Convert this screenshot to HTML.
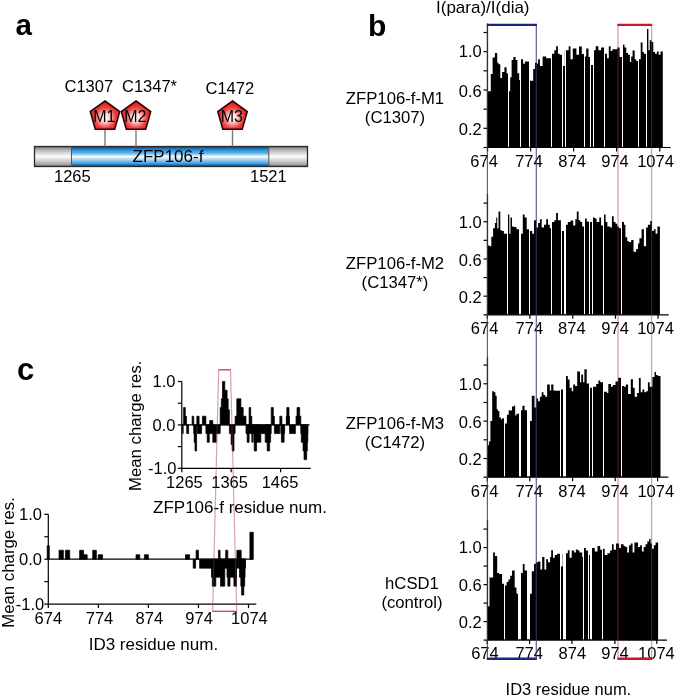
<!DOCTYPE html>
<html><head><meta charset="utf-8"><style>
html,body{margin:0;padding:0;background:#fff;width:675px;height:696px;overflow:hidden}
svg{display:block;filter:blur(0.45px)}
text{font-family:"Liberation Sans",sans-serif;fill:#000}
</style></head><body>
<svg width="675" height="696" viewBox="0 0 675 696">
<rect width="675" height="696" fill="#fff"/>
<defs>
<linearGradient id="gGray" x1="0" y1="0" x2="0" y2="1">
<stop offset="0" stop-color="#666"/><stop offset="0.12" stop-color="#a6a6a6"/><stop offset="0.3" stop-color="#d2d2d2"/><stop offset="0.5" stop-color="#fbfbfb"/><stop offset="0.72" stop-color="#cfcfcf"/><stop offset="0.9" stop-color="#a2a2a2"/><stop offset="1" stop-color="#6a6a6a"/></linearGradient>
<linearGradient id="gBlue" x1="0" y1="0" x2="0" y2="1">
<stop offset="0" stop-color="#123f6a"/><stop offset="0.1" stop-color="#1f6fb0"/><stop offset="0.2" stop-color="#2f98dc"/><stop offset="0.33" stop-color="#5ab2ea"/><stop offset="0.5" stop-color="#f6fbff"/><stop offset="0.68" stop-color="#9ccff4"/><stop offset="0.85" stop-color="#3a9ee0"/><stop offset="0.93" stop-color="#1f6fb0"/><stop offset="1" stop-color="#103c66"/></linearGradient>
<radialGradient id="gRed" cx="0.5" cy="0.6" r="0.6">
<stop offset="0" stop-color="#ffffff"/><stop offset="0.22" stop-color="#fde0e0"/><stop offset="0.6" stop-color="#f04040"/><stop offset="1" stop-color="#e01414"/></radialGradient>
</defs>
<text x="15.5" y="35" font-size="29.5" text-anchor="start" font-weight="bold" >a</text>
<rect x="34.5" y="146.5" width="37.0" height="20.0" fill="url(#gGray)"/>
<rect x="268.8" y="146.5" width="38.69999999999999" height="20.0" fill="url(#gGray)"/>
<rect x="71.5" y="146.5" width="197.3" height="20.0" fill="url(#gBlue)"/>
<rect x="34.5" y="146.5" width="273.0" height="20.0" fill="none" stroke="#2a2a2a" stroke-width="1.3"/>
<line x1="71.50" y1="146.50" x2="71.50" y2="166.50" stroke="#555" stroke-width="1"/>
<line x1="268.80" y1="146.50" x2="268.80" y2="166.50" stroke="#555" stroke-width="1"/>
<text x="168" y="161.8" font-size="17" text-anchor="middle" font-weight="normal" >ZFP106-f</text>
<text x="54" y="181.5" font-size="16.5" text-anchor="start" font-weight="normal" >1265</text>
<text x="250" y="181.5" font-size="16.5" text-anchor="start" font-weight="normal" >1521</text>
<line x1="105.00" y1="129.00" x2="105.00" y2="146.50" stroke="#7a7a7a" stroke-width="1.4"/>
<polygon points="105.0,101.0 119.7,111.5 114.7,129.2 95.3,129.2 90.3,111.5" fill="url(#gRed)" stroke="#2a0404" stroke-width="1.6"/>
<text x="104.4" y="121.9" font-size="16" text-anchor="middle" font-weight="normal" >M1</text>
<line x1="136.00" y1="129.00" x2="136.00" y2="146.50" stroke="#7a7a7a" stroke-width="1.4"/>
<polygon points="136.0,101.0 150.7,111.5 145.7,129.2 126.3,129.2 121.3,111.5" fill="url(#gRed)" stroke="#2a0404" stroke-width="1.6"/>
<text x="135.4" y="121.9" font-size="16" text-anchor="middle" font-weight="normal" >M2</text>
<line x1="232.50" y1="129.00" x2="232.50" y2="146.50" stroke="#7a7a7a" stroke-width="1.4"/>
<polygon points="232.5,101.0 247.2,111.5 242.2,129.2 222.8,129.2 217.8,111.5" fill="url(#gRed)" stroke="#2a0404" stroke-width="1.6"/>
<text x="231.9" y="121.9" font-size="16" text-anchor="middle" font-weight="normal" >M3</text>
<text x="64.5" y="92.2" font-size="16.5" text-anchor="start" font-weight="normal" >C1307</text>
<text x="122" y="92.2" font-size="16.5" text-anchor="start" font-weight="normal" >C1347*</text>
<text x="205.5" y="93.7" font-size="16.5" text-anchor="start" font-weight="normal" >C1472</text>
<text x="368" y="36" font-size="30" text-anchor="start" font-weight="bold" >b</text>
<text x="436" y="13.4" font-size="17" text-anchor="start" font-weight="normal" >I(para)/I(dia)</text>
<path d="M487.7,147.5 L487.7,91.2 L490.8,91.2 L490.8,73.9 L492.6,73.9 L492.6,57.4 L494.9,57.4 L494.9,52.9 L497.2,52.9 L497.2,62.8 L498.5,62.8 L498.5,64.2 L500.3,64.2 L500.3,78.0 L502.1,78.0 L502.1,72.1 L504.4,72.1 L504.4,67.3 L506.6,67.3 L506.6,73.6 L508.2,73.6 L508.2,91.2 L510.2,91.2 L510.2,77.2 L511.6,77.2 L511.6,60.0 L513.4,60.0 L513.4,57.0 L515.6,57.0 L515.6,60.0 L517.4,60.0 L517.4,73.2 L519.2,73.2 L519.2,79.9 L520.6,79.9 L520.6,59.2 L523.1,59.2 L523.1,63.7 L524.9,63.7 L524.9,61.5 L529.6,61.5 L529.6,80.8 L533.2,80.8 L533.2,69.0 L535.0,69.0 L535.0,62.8 L537.2,62.8 L537.2,63.7 L538.1,63.7 L538.1,59.2 L539.9,59.2 L539.9,66.0 L542.6,66.0 L542.6,56.5 L546.2,56.5 L546.2,58.3 L551.5,58.3 L551.5,53.8 L554.3,53.8 L554.3,50.2 L556.1,50.2 L556.1,46.2 L557.9,46.2 L557.9,53.8 L559.7,53.8 L559.7,54.7 L562.0,54.7 L562.0,66.0 L564.8,66.0 L564.8,50.2 L568.7,50.2 L568.7,46.2 L570.5,46.2 L570.5,59.2 L572.8,59.2 L572.8,48.4 L575.0,48.4 L575.0,48.4 L576.4,48.4 L576.4,54.7 L579.0,54.7 L579.0,46.6 L581.8,46.6 L581.8,54.1 L584.6,54.1 L584.6,56.5 L586.2,56.5 L586.2,48.4 L588.5,48.4 L588.5,57.0 L590.6,57.0 L590.6,64.9 L593.3,64.9 L593.3,50.2 L595.7,50.2 L595.7,46.2 L598.4,46.2 L598.4,50.2 L601.1,50.2 L601.1,47.5 L604.0,47.5 L604.0,53.8 L607.0,53.8 L607.0,58.3 L608.8,58.3 L608.8,46.2 L610.6,46.2 L610.6,51.1 L612.4,51.1 L612.4,49.3 L617.3,49.3 L617.3,47.5 L619.6,47.5 L619.6,57.0 L622.2,57.0 L622.2,44.8 L624.5,44.8 L624.5,47.5 L626.3,47.5 L626.3,52.9 L628.1,52.9 L628.1,54.7 L629.9,54.7 L629.9,61.9 L631.2,61.9 L631.2,56.5 L632.6,56.5 L632.6,50.5 L634.7,50.5 L634.7,59.2 L636.2,59.2 L636.2,61.0 L638.4,61.0 L638.4,59.2 L640.7,59.2 L640.7,42.6 L642.5,42.6 L642.5,52.0 L643.9,52.0 L643.9,53.8 L646.3,53.8 L646.3,29.0 L648.4,29.0 L648.4,50.2 L649.7,50.2 L649.7,40.3 L651.5,40.3 L651.5,42.1 L653.3,42.1 L653.3,52.0 L655.1,52.0 L655.1,53.8 L656.9,53.8 L656.9,51.6 L658.7,51.6 L658.7,54.7 L660.5,54.7 L660.5,51.6 L662.8,51.6 L662.8,147.5 Z" fill="#000"/>
<rect x="508" y="23.5" width="1" height="123.4" fill="#fff"/>
<rect x="520" y="23.5" width="1" height="123.4" fill="#fff"/>
<rect x="529" y="23.5" width="1" height="123.4" fill="#fff"/>
<rect x="551" y="23.5" width="1" height="123.4" fill="#fff"/>
<rect x="562" y="23.5" width="1" height="123.4" fill="#fff"/>
<rect x="565" y="23.5" width="1" height="123.4" fill="#fff"/>
<rect x="584" y="23.5" width="1" height="123.4" fill="#fff"/>
<rect x="590" y="23.5" width="1" height="123.4" fill="#fff"/>
<rect x="593" y="23.5" width="1" height="123.4" fill="#fff"/>
<rect x="604" y="23.5" width="1" height="123.4" fill="#fff"/>
<rect x="622" y="23.5" width="1" height="123.4" fill="#fff"/>
<rect x="638" y="23.5" width="1" height="123.4" fill="#fff"/>
<rect x="646" y="23.5" width="1" height="123.4" fill="#fff"/>
<line x1="487.50" y1="23.50" x2="487.50" y2="147.50" stroke="#000" stroke-width="1.2"/>
<line x1="487.50" y1="147.50" x2="670.60" y2="147.50" stroke="#000" stroke-width="1.2"/>
<line x1="483.50" y1="147.50" x2="487.50" y2="147.50" stroke="#000" stroke-width="1.2"/>
<line x1="483.50" y1="128.33" x2="487.50" y2="128.33" stroke="#000" stroke-width="1.2"/>
<line x1="483.50" y1="109.17" x2="487.50" y2="109.17" stroke="#000" stroke-width="1.2"/>
<line x1="483.50" y1="90.00" x2="487.50" y2="90.00" stroke="#000" stroke-width="1.2"/>
<line x1="483.50" y1="70.83" x2="487.50" y2="70.83" stroke="#000" stroke-width="1.2"/>
<line x1="483.50" y1="51.67" x2="487.50" y2="51.67" stroke="#000" stroke-width="1.2"/>
<line x1="483.50" y1="32.50" x2="487.50" y2="32.50" stroke="#000" stroke-width="1.2"/>
<text x="481.8" y="57.466666666666654" font-size="16.5" text-anchor="end" font-weight="normal" >1.0</text>
<text x="481.8" y="96.6" font-size="16.5" text-anchor="end" font-weight="normal" >0.6</text>
<text x="481.8" y="135.13333333333335" font-size="16.5" text-anchor="end" font-weight="normal" >0.2</text>
<line x1="487.60" y1="147.50" x2="487.60" y2="151.50" stroke="#000" stroke-width="1.2"/>
<text x="484.1" y="166.8" font-size="16.5" text-anchor="middle" font-weight="normal" >674</text>
<line x1="530.70" y1="147.50" x2="530.70" y2="151.50" stroke="#000" stroke-width="1.2"/>
<text x="528.9" y="166.8" font-size="16.5" text-anchor="middle" font-weight="normal" >774</text>
<line x1="573.60" y1="147.50" x2="573.60" y2="151.50" stroke="#000" stroke-width="1.2"/>
<text x="572.1" y="166.8" font-size="16.5" text-anchor="middle" font-weight="normal" >874</text>
<line x1="616.60" y1="147.50" x2="616.60" y2="151.50" stroke="#000" stroke-width="1.2"/>
<text x="614.9" y="166.8" font-size="16.5" text-anchor="middle" font-weight="normal" >974</text>
<line x1="659.80" y1="147.50" x2="659.80" y2="151.50" stroke="#000" stroke-width="1.2"/>
<text x="655.5" y="166.8" font-size="16.5" text-anchor="middle" font-weight="normal" >1074</text>
<text x="395" y="104.2" font-size="16.7" text-anchor="middle" font-weight="normal" >ZFP106-f-M1</text>
<text x="395" y="123.2" font-size="16.7" text-anchor="middle" font-weight="normal" >(C1307)</text>
<path d="M487.7,314.8 L487.7,245.4 L489.5,245.4 L489.5,246.3 L491.3,246.3 L491.3,236.7 L493.1,236.7 L493.1,228.3 L494.9,228.3 L494.9,222.9 L496.2,222.9 L496.2,217.5 L497.2,217.5 L497.2,228.3 L498.5,228.3 L498.5,211.5 L500.3,211.5 L500.3,230.1 L501.5,230.1 L501.5,231.0 L503.9,231.0 L503.9,233.7 L507.2,233.7 L507.2,214.4 L509.3,214.4 L509.3,233.7 L510.5,233.7 L510.5,217.5 L512.0,217.5 L512.0,226.5 L513.8,226.5 L513.8,227.0 L516.5,227.0 L516.5,229.2 L519.5,229.2 L519.5,233.7 L522.8,233.7 L522.8,214.4 L524.6,214.4 L524.6,217.5 L526.7,217.5 L526.7,229.2 L529.6,229.2 L529.6,231.0 L532.2,231.0 L532.2,233.7 L534.0,233.7 L534.0,220.2 L536.3,220.2 L536.3,227.4 L538.1,227.4 L538.1,222.9 L539.9,222.9 L539.9,219.3 L541.7,219.3 L541.7,227.4 L544.0,227.4 L544.0,224.7 L546.2,224.7 L546.2,219.3 L548.0,219.3 L548.0,224.7 L549.8,224.7 L549.8,228.3 L551.5,228.3 L551.5,222.0 L554.3,222.0 L554.3,220.2 L556.1,220.2 L556.1,213.0 L557.9,213.0 L557.9,220.2 L560.9,220.2 L560.9,231.0 L564.2,231.0 L564.2,224.7 L567.8,224.7 L567.8,222.0 L570.5,222.0 L570.5,220.5 L573.2,220.5 L573.2,225.6 L575.3,225.6 L575.3,219.3 L576.8,219.3 L576.8,211.5 L578.6,211.5 L578.6,220.2 L580.4,220.2 L580.4,222.0 L582.2,222.0 L582.2,226.5 L584.3,226.5 L584.3,218.4 L586.7,218.4 L586.7,221.6 L588.5,221.6 L588.5,222.0 L589.8,222.0 L589.8,222.0 L592.4,222.0 L592.4,217.5 L594.8,217.5 L594.8,218.4 L596.6,218.4 L596.6,222.0 L599.3,222.0 L599.3,217.5 L601.1,217.5 L601.1,225.6 L603.2,225.6 L603.2,214.4 L605.6,214.4 L605.6,222.0 L607.4,222.0 L607.4,226.5 L610.1,226.5 L610.1,227.4 L611.9,227.4 L611.9,216.2 L613.7,216.2 L613.7,222.0 L615.5,222.0 L615.5,223.8 L617.3,223.8 L617.3,226.5 L619.1,226.5 L619.1,228.3 L621.6,228.3 L621.6,222.0 L624.0,222.0 L624.0,224.7 L625.4,224.7 L625.4,237.3 L627.2,237.3 L627.2,240.9 L628.6,240.9 L628.6,242.1 L631.2,242.1 L631.2,240.0 L633.5,240.0 L633.5,251.7 L636.2,251.7 L636.2,249.0 L638.0,249.0 L638.0,243.6 L639.4,243.6 L639.4,238.2 L641.6,238.2 L641.6,229.2 L643.9,229.2 L643.9,246.3 L646.1,246.3 L646.1,227.4 L647.9,227.4 L647.9,224.7 L650.2,224.7 L650.2,221.1 L652.0,221.1 L652.0,231.0 L653.8,231.0 L653.8,229.2 L655.6,229.2 L655.6,233.7 L657.4,233.7 L657.4,226.5 L659.9,226.5 L659.9,314.8 Z" fill="#000"/>
<rect x="507" y="194" width="1" height="120.2" fill="#fff"/>
<rect x="519" y="194" width="2" height="120.2" fill="#fff"/>
<rect x="529" y="194" width="1" height="120.2" fill="#fff"/>
<rect x="551" y="194" width="1" height="120.2" fill="#fff"/>
<rect x="561" y="194" width="1" height="120.2" fill="#fff"/>
<rect x="564" y="194" width="2" height="120.2" fill="#fff"/>
<rect x="584" y="194" width="1" height="120.2" fill="#fff"/>
<rect x="589" y="194" width="1" height="120.2" fill="#fff"/>
<rect x="592" y="194" width="1" height="120.2" fill="#fff"/>
<rect x="603" y="194" width="1" height="120.2" fill="#fff"/>
<rect x="621" y="194" width="1" height="120.2" fill="#fff"/>
<line x1="487.50" y1="194.00" x2="487.50" y2="314.80" stroke="#000" stroke-width="1.2"/>
<line x1="487.50" y1="314.80" x2="668.70" y2="314.80" stroke="#000" stroke-width="1.2"/>
<line x1="483.50" y1="314.80" x2="487.50" y2="314.80" stroke="#000" stroke-width="1.2"/>
<line x1="483.50" y1="296.18" x2="487.50" y2="296.18" stroke="#000" stroke-width="1.2"/>
<line x1="483.50" y1="277.57" x2="487.50" y2="277.57" stroke="#000" stroke-width="1.2"/>
<line x1="483.50" y1="258.95" x2="487.50" y2="258.95" stroke="#000" stroke-width="1.2"/>
<line x1="483.50" y1="240.33" x2="487.50" y2="240.33" stroke="#000" stroke-width="1.2"/>
<line x1="483.50" y1="221.72" x2="487.50" y2="221.72" stroke="#000" stroke-width="1.2"/>
<line x1="483.50" y1="203.10" x2="487.50" y2="203.10" stroke="#000" stroke-width="1.2"/>
<text x="481.8" y="227.51666666666665" font-size="16.5" text-anchor="end" font-weight="normal" >1.0</text>
<text x="481.8" y="265.55" font-size="16.5" text-anchor="end" font-weight="normal" >0.6</text>
<text x="481.8" y="302.98333333333335" font-size="16.5" text-anchor="end" font-weight="normal" >0.2</text>
<line x1="487.30" y1="314.80" x2="487.30" y2="318.80" stroke="#000" stroke-width="1.2"/>
<text x="484.6" y="334.1" font-size="16.5" text-anchor="middle" font-weight="normal" >674</text>
<line x1="529.90" y1="314.80" x2="529.90" y2="318.80" stroke="#000" stroke-width="1.2"/>
<text x="529.3" y="334.1" font-size="16.5" text-anchor="middle" font-weight="normal" >774</text>
<line x1="572.80" y1="314.80" x2="572.80" y2="318.80" stroke="#000" stroke-width="1.2"/>
<text x="571.8" y="334.1" font-size="16.5" text-anchor="middle" font-weight="normal" >874</text>
<line x1="615.50" y1="314.80" x2="615.50" y2="318.80" stroke="#000" stroke-width="1.2"/>
<text x="615.1" y="334.1" font-size="16.5" text-anchor="middle" font-weight="normal" >974</text>
<line x1="658.00" y1="314.80" x2="658.00" y2="318.80" stroke="#000" stroke-width="1.2"/>
<text x="655.5" y="334.1" font-size="16.5" text-anchor="middle" font-weight="normal" >1074</text>
<text x="395" y="269.2" font-size="16.7" text-anchor="middle" font-weight="normal" >ZFP106-f-M2</text>
<text x="395" y="288.2" font-size="16.7" text-anchor="middle" font-weight="normal" >(C1347*)</text>
<path d="M487.7,477.2 L487.7,445.2 L489.0,445.2 L489.0,441.6 L490.4,441.6 L490.4,421.0 L492.2,421.0 L492.2,391.3 L494.0,391.3 L494.0,392.2 L495.4,392.2 L495.4,395.8 L496.7,395.8 L496.7,409.3 L497.9,409.3 L497.9,411.1 L499.4,411.1 L499.4,417.4 L500.8,417.4 L500.8,419.2 L502.1,419.2 L502.1,418.3 L504.2,418.3 L504.2,423.6 L506.9,423.6 L506.9,414.7 L508.7,414.7 L508.7,410.2 L510.2,410.2 L510.2,410.5 L512.0,410.5 L512.0,406.6 L513.8,406.6 L513.8,405.7 L515.2,405.7 L515.2,415.6 L516.5,415.6 L516.5,413.8 L519.2,413.8 L519.2,410.2 L522.4,410.2 L522.4,405.7 L524.6,405.7 L524.6,410.2 L527.2,410.2 L527.2,421.0 L531.8,421.0 L531.8,395.8 L534.5,395.8 L534.5,407.5 L536.3,407.5 L536.3,398.5 L538.1,398.5 L538.1,401.2 L539.9,401.2 L539.9,396.7 L541.7,396.7 L541.7,392.2 L543.5,392.2 L543.5,394.9 L545.3,394.9 L545.3,396.7 L547.1,396.7 L547.1,384.6 L549.8,384.6 L549.8,390.4 L551.2,390.4 L551.2,384.6 L553.4,384.6 L553.4,390.4 L555.2,390.4 L555.2,390.7 L559.9,390.7 L559.9,389.5 L563.3,389.5 L563.3,376.0 L567.8,376.0 L567.8,379.6 L569.6,379.6 L569.6,387.7 L571.7,387.7 L571.7,391.3 L573.2,391.3 L573.2,384.6 L575.0,384.6 L575.0,385.9 L577.2,385.9 L577.2,371.5 L580.0,371.5 L580.0,382.3 L581.3,382.3 L581.3,374.5 L583.1,374.5 L583.1,382.3 L584.4,382.3 L584.4,369.2 L586.7,369.2 L586.7,383.5 L589.2,383.5 L589.2,387.7 L592.4,387.7 L592.4,386.8 L596.2,386.8 L596.2,384.1 L598.4,384.1 L598.4,380.5 L600.2,380.5 L600.2,382.3 L603.2,382.3 L603.2,391.8 L607.0,391.8 L607.0,393.0 L608.3,393.0 L608.3,384.1 L611.0,384.1 L611.0,386.8 L612.8,386.8 L612.8,385.0 L615.5,385.0 L615.5,381.4 L618.2,381.4 L618.2,377.8 L620.0,377.8 L620.0,377.8 L621.6,377.8 L621.6,385.9 L624.0,385.9 L624.0,386.8 L625.8,386.8 L625.8,384.6 L628.1,384.6 L628.1,394.0 L630.8,394.0 L630.8,379.2 L632.9,379.2 L632.9,387.7 L634.7,387.7 L634.7,396.7 L637.1,396.7 L637.1,393.1 L638.9,393.1 L638.9,378.1 L640.7,378.1 L640.7,392.2 L642.5,392.2 L642.5,389.5 L644.3,389.5 L644.3,392.2 L646.1,392.2 L646.1,391.3 L647.9,391.3 L647.9,382.3 L649.7,382.3 L649.7,386.8 L652.4,386.8 L652.4,376.9 L654.5,376.9 L654.5,372.0 L656.0,372.0 L656.0,375.1 L657.8,375.1 L657.8,376.0 L660.5,376.0 L660.5,477.2 Z" fill="#000"/>
<rect x="504" y="357" width="1" height="119.6" fill="#fff"/>
<rect x="519" y="357" width="2" height="119.6" fill="#fff"/>
<rect x="527" y="357" width="3" height="119.6" fill="#fff"/>
<rect x="560" y="357" width="1" height="119.6" fill="#fff"/>
<rect x="563" y="357" width="3" height="119.6" fill="#fff"/>
<rect x="589" y="357" width="1" height="119.6" fill="#fff"/>
<rect x="592" y="357" width="1" height="119.6" fill="#fff"/>
<rect x="603" y="357" width="1" height="119.6" fill="#fff"/>
<rect x="621" y="357" width="1" height="119.6" fill="#fff"/>
<line x1="487.50" y1="357.00" x2="487.50" y2="477.20" stroke="#000" stroke-width="1.2"/>
<line x1="487.50" y1="477.20" x2="668.30" y2="477.20" stroke="#000" stroke-width="1.2"/>
<line x1="483.50" y1="477.20" x2="487.50" y2="477.20" stroke="#000" stroke-width="1.2"/>
<line x1="483.50" y1="458.52" x2="487.50" y2="458.52" stroke="#000" stroke-width="1.2"/>
<line x1="483.50" y1="439.83" x2="487.50" y2="439.83" stroke="#000" stroke-width="1.2"/>
<line x1="483.50" y1="421.15" x2="487.50" y2="421.15" stroke="#000" stroke-width="1.2"/>
<line x1="483.50" y1="402.47" x2="487.50" y2="402.47" stroke="#000" stroke-width="1.2"/>
<line x1="483.50" y1="383.78" x2="487.50" y2="383.78" stroke="#000" stroke-width="1.2"/>
<line x1="483.50" y1="365.10" x2="487.50" y2="365.10" stroke="#000" stroke-width="1.2"/>
<text x="481.8" y="389.58333333333337" font-size="16.5" text-anchor="end" font-weight="normal" >1.0</text>
<text x="481.8" y="427.75" font-size="16.5" text-anchor="end" font-weight="normal" >0.6</text>
<text x="481.8" y="465.31666666666666" font-size="16.5" text-anchor="end" font-weight="normal" >0.2</text>
<line x1="487.30" y1="477.20" x2="487.30" y2="481.20" stroke="#000" stroke-width="1.2"/>
<text x="484.6" y="496.5" font-size="16.5" text-anchor="middle" font-weight="normal" >674</text>
<line x1="529.80" y1="477.20" x2="529.80" y2="481.20" stroke="#000" stroke-width="1.2"/>
<text x="529.2" y="496.5" font-size="16.5" text-anchor="middle" font-weight="normal" >774</text>
<line x1="572.60" y1="477.20" x2="572.60" y2="481.20" stroke="#000" stroke-width="1.2"/>
<text x="572.0" y="496.5" font-size="16.5" text-anchor="middle" font-weight="normal" >874</text>
<line x1="615.20" y1="477.20" x2="615.20" y2="481.20" stroke="#000" stroke-width="1.2"/>
<text x="615.0" y="496.5" font-size="16.5" text-anchor="middle" font-weight="normal" >974</text>
<line x1="657.60" y1="477.20" x2="657.60" y2="481.20" stroke="#000" stroke-width="1.2"/>
<text x="655.8" y="496.5" font-size="16.5" text-anchor="middle" font-weight="normal" >1074</text>
<text x="395" y="429.3" font-size="16.7" text-anchor="middle" font-weight="normal" >ZFP106-f-M3</text>
<text x="395" y="448.3" font-size="16.7" text-anchor="middle" font-weight="normal" >(C1472)</text>
<path d="M487.7,640.1 L487.7,606.3 L489.5,606.3 L489.5,577.6 L493.1,577.6 L493.1,552.4 L494.9,552.4 L494.9,556.0 L497.2,556.0 L497.2,573.1 L499.0,573.1 L499.0,574.0 L502.1,574.0 L502.1,583.8 L504.1,583.8 L504.1,585.6 L506.6,585.6 L506.6,582.0 L508.4,582.0 L508.4,579.4 L510.2,579.4 L510.2,575.8 L512.0,575.8 L512.0,570.4 L514.7,570.4 L514.7,587.4 L516.5,587.4 L516.5,593.7 L518.6,593.7 L518.6,573.1 L522.8,573.1 L522.8,564.1 L524.6,564.1 L524.6,570.4 L527.3,570.4 L527.3,593.7 L531.8,593.7 L531.8,571.3 L534.0,571.3 L534.0,564.1 L535.8,564.1 L535.8,562.3 L538.1,562.3 L538.1,561.4 L540.4,561.4 L540.4,569.5 L542.2,569.5 L542.2,556.9 L544.4,556.9 L544.4,569.5 L546.2,569.5 L546.2,559.2 L548.0,559.2 L548.0,562.3 L550.1,562.3 L550.1,557.0 L551.2,557.0 L551.2,550.2 L553.0,550.2 L553.0,557.8 L554.8,557.8 L554.8,555.1 L557.0,555.1 L557.0,553.8 L560.4,553.8 L560.4,566.4 L562.7,566.4 L562.7,553.3 L567.8,553.3 L567.8,550.2 L569.6,550.2 L569.6,557.8 L571.7,557.8 L571.7,550.6 L574.1,550.6 L574.1,552.4 L575.9,552.4 L575.9,549.4 L577.7,549.4 L577.7,550.6 L579.5,550.6 L579.5,552.4 L582.2,552.4 L582.2,556.9 L583.8,556.9 L583.8,547.9 L585.8,547.9 L585.8,550.6 L587.9,550.6 L587.9,555.1 L590.3,555.1 L590.3,547.9 L594.8,547.9 L594.8,551.5 L597.5,551.5 L597.5,546.1 L600.2,546.1 L600.2,549.7 L602.3,549.7 L602.3,548.8 L604.7,548.8 L604.7,555.1 L607.4,555.1 L607.4,553.3 L610.1,553.3 L610.1,550.6 L611.9,550.6 L611.9,544.3 L613.7,544.3 L613.7,549.7 L616.0,549.7 L616.0,543.4 L619.1,543.4 L619.1,548.0 L620.9,548.0 L620.9,544.3 L623.6,544.3 L623.6,546.1 L625.4,546.1 L625.4,547.0 L627.2,547.0 L627.2,552.4 L629.0,552.4 L629.0,545.2 L630.8,545.2 L630.8,543.4 L632.6,543.4 L632.6,552.4 L634.4,552.4 L634.4,542.5 L638.0,542.5 L638.0,547.0 L640.1,547.0 L640.1,545.2 L641.9,545.2 L641.9,551.5 L643.7,551.5 L643.7,547.0 L645.5,547.0 L645.5,544.3 L647.3,544.3 L647.3,541.6 L649.1,541.6 L649.1,538.9 L650.6,538.9 L650.6,543.4 L652.0,543.4 L652.0,548.8 L653.8,548.8 L653.8,545.2 L655.6,545.2 L655.6,542.5 L658.1,542.5 L658.1,640.1 Z" fill="#000"/>
<rect x="504" y="520.2" width="1" height="119.3" fill="#fff"/>
<rect x="518" y="520.2" width="3" height="119.3" fill="#fff"/>
<rect x="527" y="520.2" width="3" height="119.3" fill="#fff"/>
<rect x="560" y="520.2" width="1" height="119.3" fill="#fff"/>
<rect x="563" y="520.2" width="3" height="119.3" fill="#fff"/>
<rect x="583" y="520.2" width="1" height="119.3" fill="#fff"/>
<rect x="588" y="520.2" width="1" height="119.3" fill="#fff"/>
<rect x="590" y="520.2" width="2" height="119.3" fill="#fff"/>
<rect x="602" y="520.2" width="1" height="119.3" fill="#fff"/>
<line x1="487.50" y1="520.20" x2="487.50" y2="640.10" stroke="#000" stroke-width="1.2"/>
<line x1="487.50" y1="640.10" x2="667.00" y2="640.10" stroke="#000" stroke-width="1.2"/>
<line x1="483.50" y1="640.10" x2="487.50" y2="640.10" stroke="#000" stroke-width="1.2"/>
<line x1="483.50" y1="621.60" x2="487.50" y2="621.60" stroke="#000" stroke-width="1.2"/>
<line x1="483.50" y1="603.10" x2="487.50" y2="603.10" stroke="#000" stroke-width="1.2"/>
<line x1="483.50" y1="584.60" x2="487.50" y2="584.60" stroke="#000" stroke-width="1.2"/>
<line x1="483.50" y1="566.10" x2="487.50" y2="566.10" stroke="#000" stroke-width="1.2"/>
<line x1="483.50" y1="547.60" x2="487.50" y2="547.60" stroke="#000" stroke-width="1.2"/>
<line x1="483.50" y1="529.10" x2="487.50" y2="529.10" stroke="#000" stroke-width="1.2"/>
<text x="481.8" y="553.4" font-size="16.5" text-anchor="end" font-weight="normal" >1.0</text>
<text x="481.8" y="591.1999999999999" font-size="16.5" text-anchor="end" font-weight="normal" >0.6</text>
<text x="481.8" y="628.4" font-size="16.5" text-anchor="end" font-weight="normal" >0.2</text>
<line x1="487.20" y1="640.10" x2="487.20" y2="644.10" stroke="#000" stroke-width="1.2"/>
<text x="484.9" y="659.4" font-size="16.5" text-anchor="middle" font-weight="normal" >674</text>
<line x1="529.60" y1="640.10" x2="529.60" y2="644.10" stroke="#000" stroke-width="1.2"/>
<text x="529.2" y="659.4" font-size="16.5" text-anchor="middle" font-weight="normal" >774</text>
<line x1="571.90" y1="640.10" x2="571.90" y2="644.10" stroke="#000" stroke-width="1.2"/>
<text x="572.3" y="659.4" font-size="16.5" text-anchor="middle" font-weight="normal" >874</text>
<line x1="614.90" y1="640.10" x2="614.90" y2="644.10" stroke="#000" stroke-width="1.2"/>
<text x="615.0" y="659.4" font-size="16.5" text-anchor="middle" font-weight="normal" >974</text>
<line x1="656.80" y1="640.10" x2="656.80" y2="644.10" stroke="#000" stroke-width="1.2"/>
<text x="656.4" y="659.4" font-size="16.5" text-anchor="middle" font-weight="normal" >1074</text>
<text x="412" y="588.8" font-size="16.7" text-anchor="middle" font-weight="normal" >hCSD1</text>
<text x="412" y="607.8" font-size="16.7" text-anchor="middle" font-weight="normal" >(control)</text>
<line x1="487.40" y1="24.00" x2="487.40" y2="659.00" stroke="rgba(57,57,108,0.8)" stroke-width="1.2"/>
<line x1="536.30" y1="24.00" x2="536.30" y2="659.00" stroke="rgba(57,57,108,0.8)" stroke-width="1.2"/>
<line x1="486.90" y1="24.90" x2="536.90" y2="24.90" stroke="#1e2580" stroke-width="2.2"/>
<line x1="486.90" y1="658.70" x2="536.90" y2="658.70" stroke="#1e2580" stroke-width="2.6"/>
<line x1="618.00" y1="24.00" x2="618.00" y2="659.00" stroke="rgba(163,46,69,0.45)" stroke-width="1.3"/>
<line x1="651.60" y1="24.00" x2="651.60" y2="659.00" stroke="rgba(163,46,69,0.45)" stroke-width="1.3"/>
<line x1="617.40" y1="24.90" x2="652.20" y2="24.90" stroke="#cc1430" stroke-width="2.2"/>
<line x1="617.40" y1="658.70" x2="652.20" y2="658.70" stroke="#cc1430" stroke-width="2.6"/>
<text x="568.4" y="695" font-size="16.5" text-anchor="middle" font-weight="normal" >ID3 residue num.</text>
<text x="17" y="380" font-size="31" text-anchor="start" font-weight="bold" >c</text>
<path d="M183.60,407.54H185.30V424.90H183.60ZM185.30,416.22H186.50V424.90H185.30ZM192.10,416.22H193.80V424.90H192.10ZM196.80,416.22H199.10V424.90H196.80ZM202.40,416.22H205.90V424.90H202.40ZM209.70,420.56H212.80V424.90H209.70ZM220.20,407.54H221.30V424.90H220.20ZM221.30,398.86H222.50V424.90H221.30ZM222.50,381.50H224.80V424.90H222.50ZM224.80,390.18H227.10V424.90H224.80ZM227.10,398.86H228.20V424.90H227.10ZM228.20,409.71H229.40V424.90H228.20ZM235.10,416.22H236.80V424.90H235.10ZM236.80,398.86H240.90V424.90H236.80ZM240.90,407.54H243.20V424.90H240.90ZM243.20,416.22H246.00V424.90H243.20ZM249.10,407.54H250.70V424.90H249.10ZM250.70,416.22H251.80V424.90H250.70ZM271.20,407.54H273.30V424.90H271.20ZM273.30,416.22H274.40V424.90H273.30ZM279.80,416.22H281.90V424.90H279.80ZM286.30,416.22H286.80V424.90H286.30ZM286.80,407.54H289.00V424.90H286.80ZM289.00,416.22H289.50V424.90H289.00ZM296.00,416.22H297.00V424.90H296.00ZM297.00,407.54H299.70V424.90H297.00ZM299.70,416.22H300.80V424.90H299.70ZM182.20,424.90H183.20V433.58H182.20ZM186.70,424.90H188.60V433.58H186.70ZM193.80,424.90H194.20V433.58H193.80ZM194.20,424.90H195.00V442.26H194.20ZM195.00,424.90H196.60V450.94H195.00ZM197.20,424.90H201.60V433.58H197.20ZM205.90,424.90H209.70V433.58H205.90ZM207.20,424.90H209.30V442.26H207.20ZM209.70,424.90H212.80V433.58H209.70ZM212.80,424.90H216.20V442.26H212.80ZM216.20,424.90H220.20V433.58H216.20ZM229.40,424.90H231.10V433.58H229.40ZM231.10,424.90H232.20V444.43H231.10ZM232.20,424.90H234.00V450.94H232.20ZM234.00,424.90H235.10V433.58H234.00ZM246.00,424.90H248.30V433.58H246.00ZM247.20,424.90H248.30V442.26H247.20ZM248.00,424.90H271.20V433.58H248.00ZM248.00,424.90H249.10V442.26H248.00ZM251.80,424.90H252.80V442.26H251.80ZM253.90,424.90H260.90V442.26H253.90ZM254.20,424.90H256.60V450.94H254.20ZM265.20,424.90H270.60V442.26H265.20ZM267.20,424.90H269.60V450.94H267.20ZM274.40,424.90H279.80V433.58H274.40ZM280.90,424.90H284.60V433.58H280.90ZM281.40,424.90H284.10V442.26H281.40ZM289.50,424.90H295.40V433.58H289.50ZM300.80,424.90H307.80V433.58H300.80ZM301.30,424.90H307.80V442.26H301.30ZM303.00,424.90H307.30V450.94H303.00ZM304.00,424.90H306.70V459.62H304.00Z" fill="#000" stroke="#000" stroke-width="0.7"/>
<line x1="181.80" y1="381.50" x2="181.80" y2="468.30" stroke="#000" stroke-width="1.2"/>
<line x1="181.80" y1="468.30" x2="310.70" y2="468.30" stroke="#000" stroke-width="1.2"/>
<line x1="181.80" y1="424.90" x2="309.60" y2="424.90" stroke="#000" stroke-width="1.2"/>
<line x1="177.80" y1="468.30" x2="181.80" y2="468.30" stroke="#000" stroke-width="1.2"/>
<line x1="177.80" y1="446.60" x2="181.80" y2="446.60" stroke="#000" stroke-width="1.2"/>
<line x1="177.80" y1="424.90" x2="181.80" y2="424.90" stroke="#000" stroke-width="1.2"/>
<line x1="177.80" y1="403.20" x2="181.80" y2="403.20" stroke="#000" stroke-width="1.2"/>
<line x1="177.80" y1="381.50" x2="181.80" y2="381.50" stroke="#000" stroke-width="1.2"/>
<text x="175.5" y="387.3" font-size="16.5" text-anchor="end" font-weight="normal" >1.0</text>
<text x="175.5" y="430.7" font-size="16.5" text-anchor="end" font-weight="normal" >0.0</text>
<text x="176.5" y="474.09999999999997" font-size="16.5" text-anchor="end" font-weight="normal" >-1.0</text>
<line x1="181.80" y1="468.30" x2="181.80" y2="472.30" stroke="#000" stroke-width="1.2"/>
<text x="184.4" y="488.29999999999995" font-size="16.5" text-anchor="middle" font-weight="normal" >1265</text>
<line x1="231.20" y1="468.30" x2="231.20" y2="472.30" stroke="#000" stroke-width="1.2"/>
<text x="229.6" y="488.29999999999995" font-size="16.5" text-anchor="middle" font-weight="normal" >1365</text>
<line x1="280.60" y1="468.30" x2="280.60" y2="472.30" stroke="#000" stroke-width="1.2"/>
<text x="280" y="488.29999999999995" font-size="16.5" text-anchor="middle" font-weight="normal" >1465</text>
<text x="240" y="513.3" font-size="17" text-anchor="middle" font-weight="normal" >ZFP106-f residue num.</text>
<text transform="translate(140.6,425.8) rotate(-90)" font-size="16.8" text-anchor="middle">Mean charge res.</text>
<path d="M47.20,545.73H49.30V559.20H47.20ZM59.00,550.22H63.40V559.20H59.00ZM65.40,550.22H69.70V559.20H65.40ZM79.60,550.22H83.60V559.20H79.60ZM83.60,554.71H87.20V559.20H83.60ZM92.70,550.22H96.40V559.20H92.70ZM98.20,554.71H102.60V559.20H98.20ZM136.00,554.71H139.80V559.20H136.00ZM144.40,554.71H148.40V559.20H144.40ZM185.50,554.71H189.60V559.20H185.50ZM193.20,559.20H195.60V568.18H193.20ZM196.10,550.22H198.50V559.20H196.10ZM199.60,559.20H211.50V568.18H199.60ZM211.50,559.20H217.90V577.16H211.50ZM212.30,559.20H215.80V586.14H212.30ZM217.90,559.20H238.00V568.18H217.90ZM217.90,559.20H221.00V577.16H217.90ZM220.50,559.20H224.80V586.14H220.50ZM218.40,550.22H220.10V559.20H218.40ZM225.70,550.22H227.80V559.20H225.70ZM227.00,559.20H232.50V577.16H227.00ZM227.80,559.20H230.00V586.14H227.80ZM232.50,559.20H236.50V577.16H232.50ZM233.90,559.20H236.50V586.14H233.90ZM236.90,550.22H241.20V559.20H236.90ZM238.20,559.20H245.50V568.18H238.20ZM239.50,559.20H245.00V577.16H239.50ZM240.80,559.20H244.70V586.14H240.80ZM241.60,559.20H243.80V595.12H241.60ZM249.90,532.26H253.30V559.20H249.90Z" fill="#000" stroke="#000" stroke-width="0.7"/>
<line x1="48.30" y1="514.30" x2="48.30" y2="604.10" stroke="#000" stroke-width="1.2"/>
<line x1="48.30" y1="604.10" x2="256.30" y2="604.10" stroke="#000" stroke-width="1.2"/>
<line x1="48.30" y1="559.20" x2="253.30" y2="559.20" stroke="#000" stroke-width="1.2"/>
<line x1="44.30" y1="604.10" x2="48.30" y2="604.10" stroke="#000" stroke-width="1.2"/>
<line x1="44.30" y1="581.65" x2="48.30" y2="581.65" stroke="#000" stroke-width="1.2"/>
<line x1="44.30" y1="559.20" x2="48.30" y2="559.20" stroke="#000" stroke-width="1.2"/>
<line x1="44.30" y1="536.75" x2="48.30" y2="536.75" stroke="#000" stroke-width="1.2"/>
<line x1="44.30" y1="514.30" x2="48.30" y2="514.30" stroke="#000" stroke-width="1.2"/>
<text x="42" y="520.1" font-size="16.5" text-anchor="end" font-weight="normal" >1.0</text>
<text x="42" y="565.0" font-size="16.5" text-anchor="end" font-weight="normal" >0.0</text>
<text x="44.3" y="609.9" font-size="16.5" text-anchor="end" font-weight="normal" >-1.0</text>
<line x1="48.30" y1="604.10" x2="48.30" y2="608.10" stroke="#000" stroke-width="1.2"/>
<text x="48.3" y="624.1" font-size="16.5" text-anchor="middle" font-weight="normal" >674</text>
<line x1="98.35" y1="604.10" x2="98.35" y2="608.10" stroke="#000" stroke-width="1.2"/>
<text x="99.5" y="624.1" font-size="16.5" text-anchor="middle" font-weight="normal" >774</text>
<line x1="148.40" y1="604.10" x2="148.40" y2="608.10" stroke="#000" stroke-width="1.2"/>
<text x="149.3" y="624.1" font-size="16.5" text-anchor="middle" font-weight="normal" >874</text>
<line x1="198.45" y1="604.10" x2="198.45" y2="608.10" stroke="#000" stroke-width="1.2"/>
<text x="199.1" y="624.1" font-size="16.5" text-anchor="middle" font-weight="normal" >974</text>
<line x1="248.50" y1="604.10" x2="248.50" y2="608.10" stroke="#000" stroke-width="1.2"/>
<text x="249.4" y="624.1" font-size="16.5" text-anchor="middle" font-weight="normal" >1074</text>
<text x="153.4" y="649.6" font-size="17" text-anchor="middle" font-weight="normal" >ID3 residue num.</text>
<text transform="translate(13.7,562.5) rotate(-90)" font-size="16.8" text-anchor="middle">Mean charge res.</text>
<polygon points="218.7,369.5 230.5,369.5 236.7,611.5 212.6,611.5" fill="none" stroke="rgba(163,46,69,0.45)" stroke-width="1.2"/>
<line x1="218.70" y1="369.80" x2="230.50" y2="369.80" stroke="#d84050" stroke-width="1.3"/>
<line x1="212.60" y1="611.30" x2="236.70" y2="611.30" stroke="#d84050" stroke-width="1.3"/>
</svg></body></html>
